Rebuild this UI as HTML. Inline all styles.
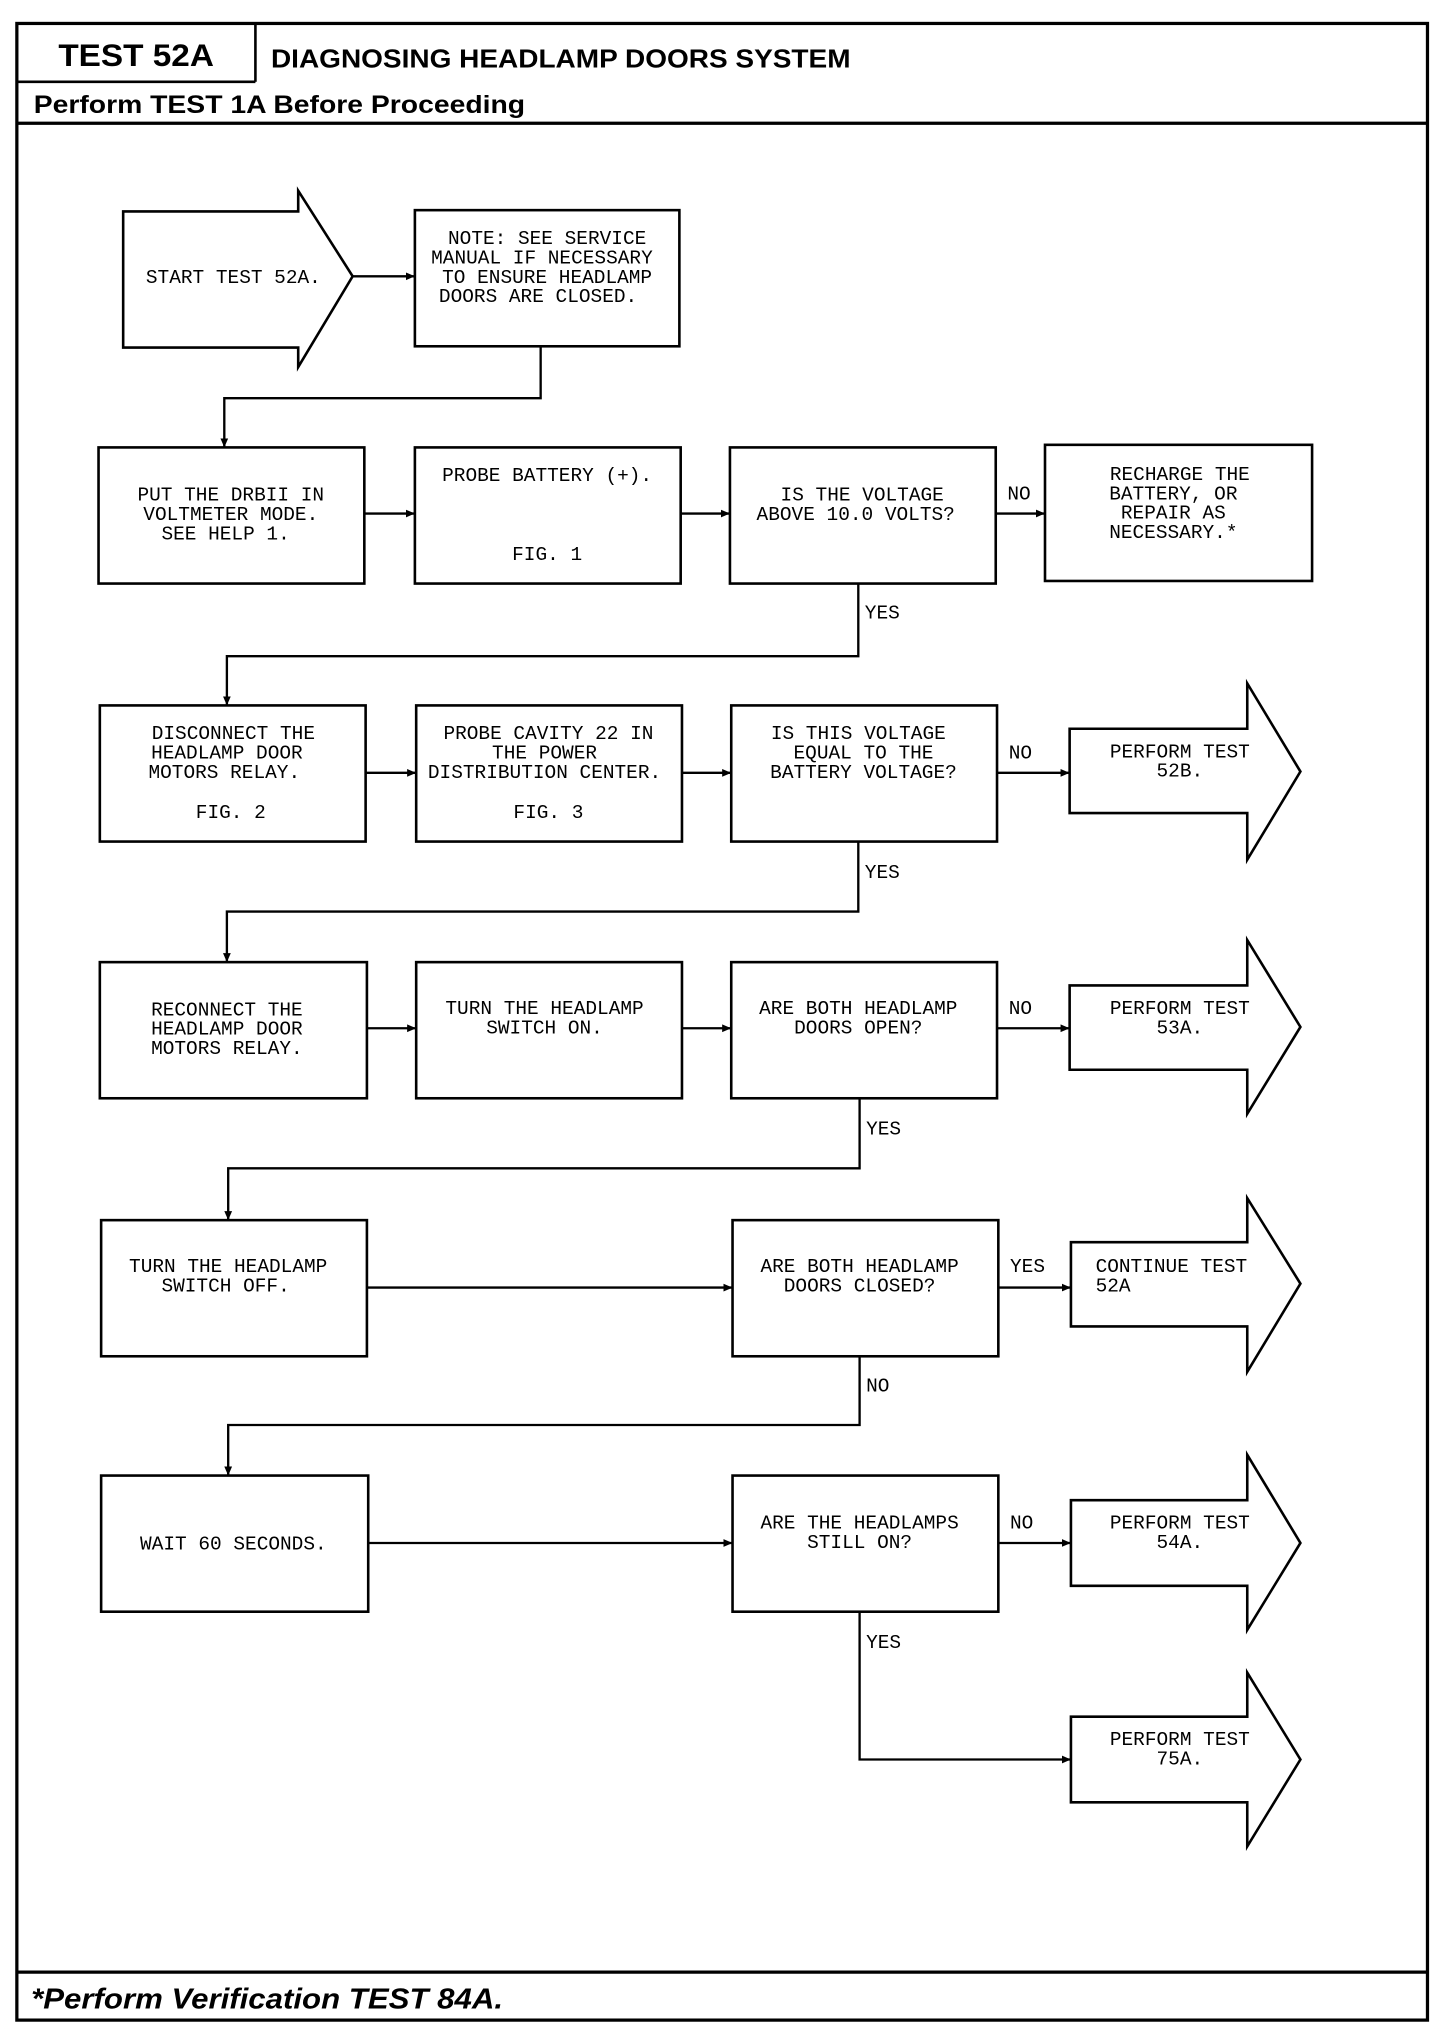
<!DOCTYPE html>
<html><head><meta charset="utf-8"><style>
html,body{margin:0;padding:0;background:#fff}
svg{display:block}
.b{fill:#fff;stroke:#000;stroke-width:2}
.l{fill:none;stroke:#000;stroke-width:1.8}
.t{font-family:"Liberation Mono",monospace;font-size:15px;text-anchor:middle}
.s{font-family:"Liberation Mono",monospace;font-size:15px}
.h{font-family:"Liberation Sans",sans-serif;font-weight:bold}
</style></head><body>
<svg width="1456" height="2028" viewBox="0 0 1123 1564" xmlns="http://www.w3.org/2000/svg">
<defs><marker id="a" markerWidth="8" markerHeight="8" refX="7" refY="4" orient="auto" markerUnits="userSpaceOnUse"><path d="M0,1 L7,4 L0,7 z"/></marker></defs>
<rect x="13" y="18" width="1088" height="1540" fill="none" stroke="#000" stroke-width="2.5"/>
<line x1="197" y1="18" x2="197" y2="63" stroke="#000" stroke-width="2"/>
<line x1="13" y1="63" x2="197" y2="63" stroke="#000" stroke-width="2"/>
<line x1="13" y1="95" x2="1101" y2="95" stroke="#000" stroke-width="2.5"/>
<line x1="13" y1="1521" x2="1101" y2="1521" stroke="#000" stroke-width="2.5"/>
<text x="45" y="51" class="h" font-size="24" textLength="120" lengthAdjust="spacingAndGlyphs">TEST 52A</text>
<text x="209" y="52" class="h" font-size="20" textLength="447" lengthAdjust="spacingAndGlyphs">DIAGNOSING HEADLAMP DOORS SYSTEM</text>
<text x="26" y="87" class="h" font-size="19" textLength="379" lengthAdjust="spacingAndGlyphs">Perform TEST 1A Before Proceeding</text>
<text x="24" y="1549" class="h" font-size="22" font-style="italic" textLength="364" lengthAdjust="spacingAndGlyphs">*Perform Verification TEST 84A.</text>

<path class="b" d="M95,163 L230,163 L230,147 L272,213 L230,283 L230,268 L95,268 Z"/>
<text x="180" y="218" class="t">START TEST 52A.</text>
<rect class="b" x="320" y="162" width="204" height="105"/>
<text class="t" x="422" y="188">NOTE:  SEE SERVICE</text>
<text class="t" x="418" y="203">MANUAL IF NECESSARY</text>
<text class="t" x="422" y="218">TO ENSURE HEADLAMP</text>
<text class="t" x="415" y="233">DOORS ARE CLOSED.</text>
<line class="l" x1="272" y1="213" x2="320" y2="213" marker-end="url(#a)"/>
<path class="l" d="M417,267 V307 H173 V345" marker-end="url(#a)"/>

<rect class="b" x="76" y="345" width="205" height="105"/>
<text class="t" x="178" y="386">PUT THE DRBII IN</text>
<text class="t" x="178" y="401">VOLTMETER MODE.</text>
<text class="t" x="174" y="416">SEE HELP 1.</text>
<rect class="b" x="320" y="345" width="205" height="105"/>
<text class="t" x="422" y="371">PROBE BATTERY (+).</text>
<text class="t" x="422" y="432">FIG. 1</text>
<rect class="b" x="563" y="345" width="205" height="105"/>
<text class="t" x="665" y="386">IS THE VOLTAGE</text>
<text class="t" x="660" y="401">ABOVE 10.0 VOLTS?</text>
<rect class="b" x="806" y="343" width="206" height="105"/>
<text class="t" x="910" y="370">RECHARGE THE</text>
<text class="t" x="905" y="385">BATTERY, OR</text>
<text class="t" x="905" y="400">REPAIR AS</text>
<text class="t" x="905" y="415">NECESSARY.*</text>
<line class="l" x1="281" y1="396" x2="320" y2="396" marker-end="url(#a)"/>
<line class="l" x1="525" y1="396" x2="563" y2="396" marker-end="url(#a)"/>
<line class="l" x1="768" y1="396" x2="806" y2="396" marker-end="url(#a)"/>
<text class="s" x="777" y="385">NO</text>
<path class="l" d="M662,450 V506 H175 V544" marker-end="url(#a)"/>
<text class="s" x="667" y="477">YES</text>

<rect class="b" x="77" y="544" width="205" height="105"/>
<text class="t" x="180" y="570">DISCONNECT THE</text>
<text class="t" x="175" y="585">HEADLAMP DOOR</text>
<text class="t" x="173" y="600">MOTORS RELAY.</text>
<text class="t" x="178" y="631">FIG. 2</text>
<rect class="b" x="321" y="544" width="205" height="105"/>
<text class="t" x="423" y="570">PROBE CAVITY 22 IN</text>
<text class="t" x="420" y="585">THE POWER</text>
<text class="t" x="420" y="600">DISTRIBUTION CENTER.</text>
<text class="t" x="423" y="631">FIG. 3</text>
<rect class="b" x="564" y="544" width="205" height="105"/>
<text class="t" x="662" y="570">IS THIS VOLTAGE</text>
<text class="t" x="666" y="585">EQUAL TO THE</text>
<text class="t" x="666" y="600">BATTERY VOLTAGE?</text>
<path class="b" d="M825,562 L962,562 L962,527 L1003,595 L962,663 L962,627 L825,627 Z"/>
<text class="t" x="910" y="584">PERFORM TEST</text>
<text class="t" x="910" y="599">52B.</text>
<line class="l" x1="282" y1="596" x2="321" y2="596" marker-end="url(#a)"/>
<line class="l" x1="526" y1="596" x2="564" y2="596" marker-end="url(#a)"/>
<line class="l" x1="769" y1="596" x2="825" y2="596" marker-end="url(#a)"/>
<text class="s" x="778" y="585">NO</text>
<path class="l" d="M662,649 V703 H175 V742" marker-end="url(#a)"/>
<text class="s" x="667" y="677">YES</text>

<rect class="b" x="77" y="742" width="206" height="105"/>
<text class="t" x="175" y="783">RECONNECT THE</text>
<text class="t" x="175" y="798">HEADLAMP DOOR</text>
<text class="t" x="175" y="813">MOTORS RELAY.</text>
<rect class="b" x="321" y="742" width="205" height="105"/>
<text class="t" x="420" y="782">TURN THE HEADLAMP</text>
<text class="t" x="420" y="797">SWITCH ON.</text>
<rect class="b" x="564" y="742" width="205" height="105"/>
<text class="t" x="662" y="782">ARE BOTH HEADLAMP</text>
<text class="t" x="662" y="797">DOORS OPEN?</text>
<path class="b" d="M825,760 L962,760 L962,725 L1003,792 L962,859 L962,825 L825,825 Z"/>
<text class="t" x="910" y="782">PERFORM TEST</text>
<text class="t" x="910" y="797">53A.</text>
<line class="l" x1="283" y1="793" x2="321" y2="793" marker-end="url(#a)"/>
<line class="l" x1="526" y1="793" x2="564" y2="793" marker-end="url(#a)"/>
<line class="l" x1="769" y1="793" x2="825" y2="793" marker-end="url(#a)"/>
<text class="s" x="778" y="782">NO</text>
<path class="l" d="M663,847 V901 H176 V941" marker-end="url(#a)"/>
<text class="s" x="668" y="875">YES</text>

<rect class="b" x="78" y="941" width="205" height="105"/>
<text class="t" x="176" y="981">TURN THE HEADLAMP</text>
<text class="t" x="174" y="996">SWITCH OFF.</text>
<rect class="b" x="565" y="941" width="205" height="105"/>
<text class="t" x="663" y="981">ARE BOTH HEADLAMP</text>
<text class="t" x="663" y="996">DOORS CLOSED?</text>
<path class="b" d="M826,958 L962,958 L962,924 L1003,990 L962,1058 L962,1023 L826,1023 Z"/>
<text class="s" x="845" y="981">CONTINUE TEST</text>
<text class="s" x="845" y="996">52A</text>
<line class="l" x1="283" y1="993" x2="565" y2="993" marker-end="url(#a)"/>
<line class="l" x1="770" y1="993" x2="826" y2="993" marker-end="url(#a)"/>
<text class="s" x="779" y="981">YES</text>
<path class="l" d="M663,1046 V1099 H176 V1138" marker-end="url(#a)"/>
<text class="s" x="668" y="1073">NO</text>

<rect class="b" x="78" y="1138" width="206" height="105"/>
<text class="t" x="180" y="1195">WAIT 60 SECONDS.</text>
<rect class="b" x="565" y="1138" width="205" height="105"/>
<text class="t" x="663" y="1179">ARE THE HEADLAMPS</text>
<text class="t" x="663" y="1194">STILL ON?</text>
<path class="b" d="M826,1157 L962,1157 L962,1122 L1003,1190 L962,1257 L962,1223 L826,1223 Z"/>
<text class="t" x="910" y="1179">PERFORM TEST</text>
<text class="t" x="910" y="1194">54A.</text>
<line class="l" x1="284" y1="1190" x2="565" y2="1190" marker-end="url(#a)"/>
<line class="l" x1="770" y1="1190" x2="826" y2="1190" marker-end="url(#a)"/>
<text class="s" x="779" y="1179">NO</text>
<path class="l" d="M663,1243 V1357 H826" marker-end="url(#a)"/>
<text class="s" x="668" y="1271">YES</text>
<path class="b" d="M826,1324 L962,1324 L962,1290 L1003,1357 L962,1424 L962,1390 L826,1390 Z"/>
<text class="t" x="910" y="1346">PERFORM TEST</text>
<text class="t" x="910" y="1361">75A.</text>
</svg>
</body></html>
